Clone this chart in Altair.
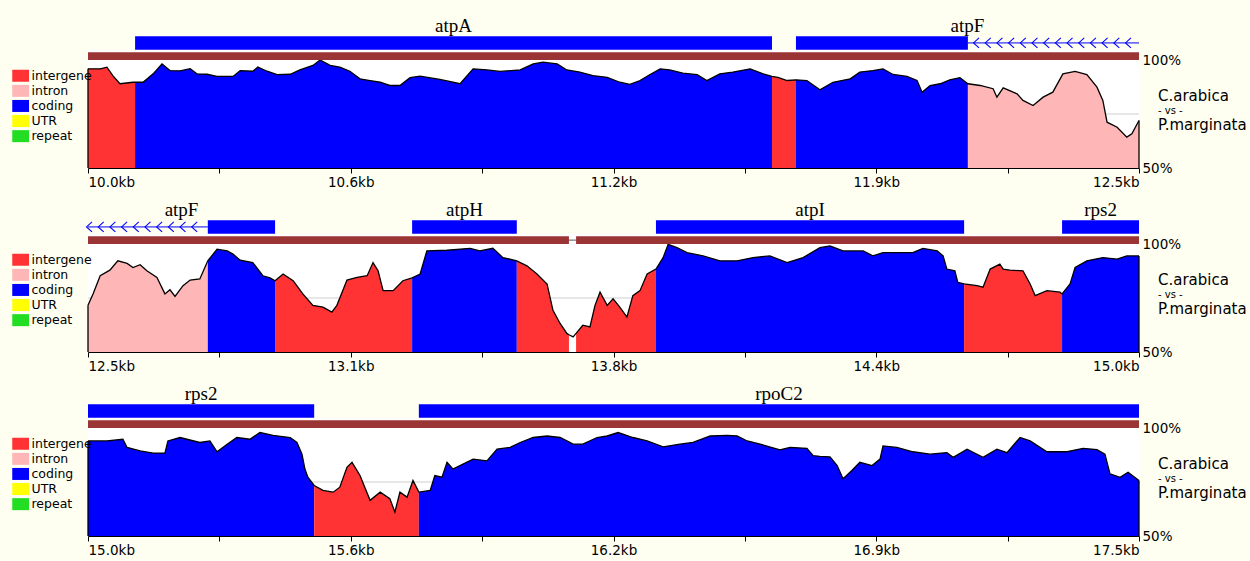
import altair as alt
import pandas as pd

# ---------------- colours / fonts ----------------
BG = "#FEFEF1"
BROWN = "#9B3535"
GENE_BLUE = "#0000FF"
UI_FONT = "DejaVu Sans"
GENE_FONT = "Liberation Serif"

TYPES = ["intergene", "intron", "coding", "UTR", "repeat"]
TYPE_COLORS = ["#FF3333", "#FFB6B6", "#0000FF", "#FFFF00", "#22DD22"]

SPECIES_A = "C.arabica"
SPECIES_VS = "- vs -"
SPECIES_B = "P.marginata"

ROW_START = [10.0, 12.5, 15.0]
ROW_END = [12.5, 15.0, 17.5]

TICKS = [
    [10.0, 10.3125, 10.625, 10.9375, 11.25, 11.5625, 11.875, 12.1875, 12.5],
    [12.5, 12.8125, 13.125, 13.4375, 13.75, 14.0625, 14.375, 14.6875, 15.0],
    [15.0, 15.3125, 15.625, 15.9375, 16.25, 16.5625, 16.875, 17.1875, 17.5],
]
TICK_LABELS = [
    ["10.0kb", "", "10.6kb", "", "11.2kb", "", "11.9kb", "", "12.5kb"],
    ["12.5kb", "", "13.1kb", "", "13.8kb", "", "14.4kb", "", "15.0kb"],
    ["15.0kb", "", "15.6kb", "", "16.2kb", "", "16.9kb", "", "17.5kb"],
]

# ---------------- conservation profiles (kb, % identity) ----------------
row1_pos = [10.000, 10.029, 10.045, 10.059, 10.076, 10.107, 10.112, 10.131, 10.155, 10.176,
            10.195, 10.219, 10.243, 10.259, 10.283, 10.307, 10.345, 10.362, 10.392, 10.404,
            10.426, 10.450, 10.481, 10.504, 10.535, 10.552, 10.576, 10.599, 10.623, 10.647,
            10.671, 10.695, 10.718, 10.742, 10.766, 10.790, 10.837, 10.885, 10.916, 10.949,
            10.980, 11.028, 11.059, 11.082, 11.116, 11.139, 11.170, 11.201, 11.235, 11.265,
            11.289, 11.313, 11.337, 11.361, 11.384, 11.415, 11.449, 11.472, 11.503, 11.534,
            11.575, 11.606, 11.627, 11.641, 11.663, 11.684, 11.710, 11.741, 11.772, 11.813,
            11.836, 11.867, 11.891, 11.915, 11.948, 11.972, 11.984, 12.003, 12.027, 12.050,
            12.074, 12.093, 12.122, 12.153, 12.162, 12.177, 12.210, 12.224, 12.248, 12.272,
            12.295, 12.319, 12.348, 12.376, 12.400, 12.414, 12.424, 12.448, 12.471, 12.483,
            12.500]
row1_val = [95.9, 95.9, 96.7, 92.8, 89.0, 89.7, 89.7, 89.7, 93.6, 98.2,
            95.1, 95.0, 96.0, 93.6, 93.4, 92.4, 92.4, 95.1, 94.8, 96.7,
            94.8, 93.2, 93.4, 95.4, 97.5, 100.0, 97.5, 96.7, 94.8, 91.3,
            90.5, 89.7, 88.2, 88.2, 91.8, 92.5, 91.0, 89.0, 95.9, 95.4,
            94.7, 95.4, 98.2, 99.0, 98.2, 95.4, 94.4, 92.8, 92.0, 89.7,
            88.7, 90.5, 93.3, 95.9, 95.4, 93.9, 93.2, 90.5, 93.6, 94.4,
            95.9, 93.6, 92.4, 92.0, 90.5, 90.8, 90.5, 86.2, 89.7, 91.3,
            94.4, 95.1, 95.9, 93.3, 92.4, 90.5, 85.1, 88.2, 89.0, 90.8,
            91.8, 89.0, 88.2, 86.7, 82.8, 87.1, 84.3, 81.3, 78.9, 82.8,
            85.1, 93.6, 94.7, 93.2, 87.4, 81.3, 71.2, 68.9, 64.3, 65.8,
            72.0]

row2_pos = [12.500, 12.512, 12.529, 12.552, 12.571, 12.593, 12.607, 12.624, 12.640, 12.664,
            12.683, 12.695, 12.707, 12.726, 12.743, 12.766, 12.778, 12.785, 12.807, 12.831,
            12.845, 12.862, 12.892, 12.916, 12.933, 12.945, 12.964, 12.988, 13.011, 13.035,
            13.059, 13.080, 13.092, 13.116, 13.140, 13.164, 13.178, 13.190, 13.202, 13.226,
            13.249, 13.271, 13.290, 13.306, 13.354, 13.409, 13.432, 13.463, 13.487, 13.520,
            13.544, 13.568, 13.592, 13.606, 13.623, 13.639, 13.644, 13.654, 13.661, 13.677,
            13.694, 13.706, 13.718, 13.735, 13.749, 13.765, 13.782, 13.796, 13.813, 13.830,
            13.851, 13.868, 13.880, 13.901, 13.925, 13.963, 14.003, 14.044, 14.082, 14.122,
            14.163, 14.201, 14.241, 14.265, 14.296, 14.344, 14.367, 14.391, 14.462, 14.486,
            14.520, 14.534, 14.543, 14.562, 14.569, 14.584, 14.615, 14.629, 14.646, 14.669,
            14.677, 14.693, 14.724, 14.741, 14.753, 14.781, 14.812, 14.817, 14.836, 14.848,
            14.876, 14.914, 14.948, 14.971, 15.000]
row2_val = [71.6, 76.9, 85.3, 87.9, 92.2, 91.0, 89.1, 90.4, 87.6, 84.5,
            76.9, 78.8, 75.7, 80.7, 83.3, 83.8, 89.1, 92.2, 97.6, 96.8,
            95.3, 92.5, 91.4, 85.3, 84.3, 83.0, 86.1, 83.0, 76.9, 71.6,
            70.8, 68.5, 71.6, 83.3, 84.5, 85.3, 91.4, 87.6, 78.4, 78.4,
            83.0, 84.3, 86.1, 96.8, 97.1, 98.0, 96.8, 98.0, 93.7, 92.2,
            89.9, 86.1, 81.5, 69.3, 63.2, 58.6, 58.0, 57.0, 58.6, 62.4,
            61.6, 71.6, 77.7, 71.6, 74.6, 70.8, 66.2, 76.1, 78.4, 86.1,
            88.4, 93.7, 99.8, 98.3, 96.0, 94.5, 92.2, 92.2, 93.7, 94.5,
            91.4, 93.7, 98.3, 99.1, 96.8, 96.8, 94.5, 96.0, 96.0, 98.0,
            96.8, 94.5, 88.4, 87.6, 82.2, 81.5, 80.7, 80.0, 88.4, 90.7,
            88.4, 87.9, 87.6, 81.5, 76.1, 78.4, 77.7, 76.9, 81.5, 89.1,
            92.2, 93.7, 93.0, 94.5, 94.5]

row3_pos = [15.000, 15.045, 15.083, 15.093, 15.124, 15.155, 15.183, 15.190, 15.219, 15.266,
            15.290, 15.307, 15.331, 15.354, 15.385, 15.409, 15.440, 15.481, 15.497, 15.509,
            15.516, 15.523, 15.538, 15.559, 15.583, 15.599, 15.616, 15.628, 15.647, 15.671,
            15.695, 15.718, 15.730, 15.742, 15.759, 15.773, 15.787, 15.814, 15.825, 15.842,
            15.854, 15.868, 15.892, 15.916, 15.949, 15.973, 16.004, 16.028, 16.059, 16.092,
            16.123, 16.154, 16.177, 16.211, 16.235, 16.261, 16.296, 16.330, 16.368, 16.408,
            16.439, 16.480, 16.520, 16.544, 16.568, 16.599, 16.646, 16.670, 16.710, 16.725,
            16.741, 16.765, 16.782, 16.796, 16.817, 16.836, 16.865, 16.884, 16.891, 16.924,
            16.962, 17.003, 17.043, 17.058, 17.091, 17.129, 17.162, 17.186, 17.217, 17.241,
            17.281, 17.329, 17.367, 17.400, 17.419, 17.431, 17.455, 17.474, 17.500]
row3_val = [94.0, 94.0, 94.8, 91.0, 89.4, 88.4, 88.4, 94.0, 95.6, 93.3,
            94.0, 89.0, 92.5, 95.6, 94.8, 97.9, 96.6, 95.6, 93.3, 87.9,
            81.0, 77.2, 73.4, 71.1, 70.3, 72.6, 81.8, 84.1, 78.0, 66.5,
            70.3, 67.3, 61.1, 70.3, 68.0, 75.7, 70.3, 71.1, 78.0, 77.2,
            84.1, 81.0, 83.3, 85.6, 84.8, 90.2, 91.0, 93.3, 95.6, 96.3,
            95.6, 92.5, 92.5, 95.6, 96.3, 97.9, 95.6, 94.0, 91.3, 92.5,
            93.3, 96.3, 96.6, 96.3, 94.0, 92.5, 89.9, 91.0, 90.6, 87.2,
            86.9, 86.6, 82.6, 76.5, 80.3, 84.1, 82.6, 85.6, 91.7, 91.0,
            89.0, 87.9, 88.6, 86.4, 90.2, 86.4, 90.2, 88.6, 95.6, 94.0,
            89.0, 89.0, 90.6, 90.0, 87.9, 78.8, 77.2, 79.5, 75.7]

# ---------------- region annotation (colour of the profile) ----------------
row1_reg_start = [10.000, 10.112, 11.627, 11.684, 12.093]
row1_reg_end = [10.112, 11.627, 11.684, 12.093, 12.500]
row1_reg_type = ["intergene", "coding", "intergene", "coding", "intron"]

row2_reg_start = [12.500, 12.785, 12.945, 13.271, 13.520, 13.661, 13.851, 14.584, 14.817]
row2_reg_end = [12.785, 12.945, 13.271, 13.520, 13.644, 13.851, 14.584, 14.817, 15.000]
row2_reg_type = ["intron", "coding", "intergene", "coding", "intergene", "intergene",
                 "coding", "intergene", "coding"]

row3_reg_start = [15.000, 15.538, 15.787]
row3_reg_end = [15.538, 15.787, 17.500]
row3_reg_type = ["coding", "intergene", "coding"]

# ---------------- gene track ----------------
row1_exon_start = [10.112, 11.684]
row1_exon_end = [11.627, 12.093]
row1_intron_start = [12.093]
row1_intron_end = [12.500]
row1_gene_name = ["atpA", "atpF"]
row1_gene_start = [10.112, 11.684]
row1_gene_end = [11.627, 12.500]
row1_align_start = [10.000]
row1_align_end = [12.500]

row2_exon_start = [12.785, 13.271, 13.851, 14.817]
row2_exon_end = [12.945, 13.520, 14.584, 15.000]
row2_intron_start = [12.500]
row2_intron_end = [12.785]
row2_gene_name = ["atpF", "atpH", "atpI", "rps2"]
row2_gene_start = [12.500, 13.271, 13.851, 14.817]
row2_gene_end = [12.945, 13.520, 14.584, 15.000]
row2_align_start = [12.500, 13.661]
row2_align_end = [13.644, 15.000]

row3_exon_start = [15.000, 15.787]
row3_exon_end = [15.538, 17.500]
row3_intron_start = []
row3_intron_end = []
row3_gene_name = ["rps2", "rpoC2"]
row3_gene_start = [15.000, 15.787]
row3_gene_end = [15.538, 17.500]
row3_align_start = [15.000]
row3_align_end = [17.500]

# reverse-strand arrow marks along introns: (first, last, spacing) in kb
row1_chevrons = (12.113, 12.480, 0.0278)
row2_chevrons = (12.503, 12.760, 0.0278)

ROWS = [
    dict(pos=row1_pos, val=row1_val, rs=row1_reg_start, re=row1_reg_end, rt=row1_reg_type,
         es=row1_exon_start, ee=row1_exon_end, ins=row1_intron_start, ine=row1_intron_end,
         gn=row1_gene_name, gs=row1_gene_start, ge=row1_gene_end,
         als=row1_align_start, ale=row1_align_end, chev=row1_chevrons),
    dict(pos=row2_pos, val=row2_val, rs=row2_reg_start, re=row2_reg_end, rt=row2_reg_type,
         es=row2_exon_start, ee=row2_exon_end, ins=row2_intron_start, ine=row2_intron_end,
         gn=row2_gene_name, gs=row2_gene_start, ge=row2_gene_end,
         als=row2_align_start, ale=row2_align_end, chev=row2_chevrons),
    dict(pos=row3_pos, val=row3_val, rs=row3_reg_start, re=row3_reg_end, rt=row3_reg_type,
         es=row3_exon_start, ee=row3_exon_end, ins=row3_intron_start, ine=row3_intron_end,
         gn=row3_gene_name, gs=row3_gene_start, ge=row3_gene_end,
         als=row3_align_start, ale=row3_align_end, chev=None),
]

PLOT_W = 1051
PLOT_H = 108

# vertical placement of the tracks, in % units of the identity scale
ALIGN_LO, ALIGN_HI = 100.0, 103.6
GENE_LO, GENE_HI = 104.8, 111.0
GENE_MID = 107.9
LABEL_Y = 112.9
WHITE_TOP = 104.8


def label_expr(values, labels):
    expr = "''"
    for v, lab in reversed(list(zip(values, labels))):
        expr = f"abs(datum.value - {v}) < 1e-6 ? '{lab}' : ({expr})"
    return expr


def build_area(pos, val, rs, re, rt):
    recs = []
    for k, (s, e, t) in enumerate(zip(rs, re, rt)):
        for p, v in zip(pos, val):
            if s - 1e-9 <= p <= e + 1e-9:
                recs.append({"pos": p, "val": v, "type": t, "seg": k})
    return pd.DataFrame(recs)


def row_chart(i):
    R = ROWS[i]
    s, e = ROW_START[i], ROW_END[i]
    xs = alt.Scale(domain=[s, e], nice=False, zero=False)
    ys = alt.Scale(domain=[50, 100], nice=False, zero=False)

    xaxis = alt.Axis(values=TICKS[i], labelExpr=label_expr(TICKS[i], TICK_LABELS[i]),
                     tickSize=5, tickColor="black", tickWidth=1,
                     domainColor="black", domainWidth=1, labelFlush=True,
                     labelPadding=2, labelFont=UI_FONT, labelFontSize=13.5,
                     labelColor="black", grid=False, title=None, labelOverlap=False)
    yaxis = alt.Axis(orient="right", values=[50, 100], labelExpr="datum.value + '%'",
                     domain=False, ticks=False, grid=False, labelPadding=3,
                     labelFont=UI_FONT, labelFontSize=13.5, labelColor="black",
                     title=None)

    frame = pd.DataFrame({"s": [s], "e": [e]})

    def X(f):
        return alt.X(f, type="quantitative", scale=xs, axis=xaxis)

    def Y(f):
        return alt.Y(f, type="quantitative", scale=ys, axis=yaxis, stack=None)

    def Yd(v):
        return alt.YDatum(v, scale=ys, axis=yaxis)

    bg = alt.Chart(frame).mark_rect(color="white").encode(
        x=X("s"), x2="e:Q", y=Yd(50), y2=alt.Y2Datum(WHITE_TOP))

    ref = alt.Chart(frame).mark_rule(color="#CFCFCF", strokeWidth=1).encode(y=Yd(75))

    area_df = build_area(R["pos"], R["val"], R["rs"], R["re"], R["rt"])
    area = alt.Chart(area_df).mark_area(interpolate="linear", opacity=1).encode(
        x=X("pos"),
        y=Y("val"),
        y2=alt.Y2Datum(50),
        color=alt.Color("type:N", scale=alt.Scale(domain=TYPES, range=TYPE_COLORS),
                        legend=alt.Legend(orient="none", legendX=-73.6, legendY=9.5,
                                          title=None, padding=0,
                                          symbolType="M-1.4,-1H1.4V1H-1.4Z",
                                          symbolSize=144, symbolStrokeWidth=0,
                                          symbolOpacity=1,
                                          labelFont=UI_FONT, labelFontSize=12.5,
                                          labelColor="black", labelOffset=4.6,
                                          rowPadding=2.1, labelLimit=300)),
        detail="seg:N")

    line_df = pd.DataFrame({"pos": R["pos"], "val": R["val"]})
    line = alt.Chart(line_df).mark_line(color="black", strokeWidth=1.3).encode(
        x=X("pos"), y=Y("val"))
    edge_df = line_df.iloc[[0, -1]]
    edges = alt.Chart(edge_df).mark_rule(color="black", strokeWidth=1.3).encode(
        x=X("pos"), y=Y("val"), y2=alt.Y2Datum(50))

    connector = alt.Chart(frame).mark_rule(color="#555555", strokeWidth=1).encode(
        x=X("s"), x2="e:Q", y=Yd((ALIGN_LO + ALIGN_HI) / 2))
    align_df = pd.DataFrame({"s": R["als"], "e": R["ale"]})
    align = alt.Chart(align_df).mark_rect(color=BROWN).encode(
        x=X("s"), x2="e:Q", y=Yd(ALIGN_LO), y2=alt.Y2Datum(ALIGN_HI))

    exon_df = pd.DataFrame({"s": R["es"], "e": R["ee"]})
    exons = alt.Chart(exon_df).mark_rect(color=GENE_BLUE).encode(
        x=X("s"), x2="e:Q", y=Yd(GENE_LO), y2=alt.Y2Datum(GENE_HI))

    gene_df = pd.DataFrame({"name": R["gn"], "s": R["gs"], "e": R["ge"]})
    labels = alt.Chart(gene_df).transform_calculate(
        mid="(datum.s + datum.e) / 2").mark_text(
        font=GENE_FONT, fontSize=19, baseline="alphabetic", align="center",
        color="black").encode(x=X("mid"), y=Yd(LABEL_Y), text="name:N")

    def xend():
        return alt.XDatum(e, scale=xs, axis=xaxis)

    sp_a = alt.Chart(frame).mark_text(text=SPECIES_A, align="left", dx=19,
                                      font=UI_FONT, fontSize=15, color="black").encode(
        x=xend(), y=Yd(83.3))
    sp_vs = alt.Chart(frame).mark_text(text=SPECIES_VS, align="left", dx=19,
                                       font=UI_FONT, fontSize=10, color="black").encode(
        x=xend(), y=Yd(76.3))
    sp_b = alt.Chart(frame).mark_text(text=SPECIES_B, align="left", dx=19,
                                      font=UI_FONT, fontSize=15, color="black").encode(
        x=xend(), y=Yd(69.8))

    layers = [bg, ref, area, line, edges, connector, align, exons]
    if R["ins"]:
        intron_df = pd.DataFrame({"s": R["ins"], "e": R["ine"]})
        layers.append(alt.Chart(intron_df).mark_rule(color=GENE_BLUE, strokeWidth=1).encode(
            x=X("s"), x2="e:Q", y=Yd(GENE_MID)))
    if R["chev"]:
        a, b, step = R["chev"]
        layers.append(alt.Chart(alt.sequence(a, b + step / 2, step, as_="p")).mark_point(
            shape="M0.55,-1L-0.55,0L0.55,1", size=100, filled=False, color=GENE_BLUE,
            strokeWidth=1.1, opacity=1).encode(x=X("p"), y=Yd(GENE_MID)))
    layers += [labels, sp_a, sp_vs, sp_b]
    return alt.layer(*layers).properties(width=PLOT_W, height=PLOT_H)


chart = alt.vconcat(row_chart(0), row_chart(1), row_chart(2), spacing=76, bounds="flush")
chart = chart.resolve_legend(color="independent").configure(
    background=BG, padding={"left": 14, "top": 17, "right": 3, "bottom": 5}
).configure_view(strokeWidth=0)

chart.save("out.html", embed_options={"renderer": "svg", "actions": False})
